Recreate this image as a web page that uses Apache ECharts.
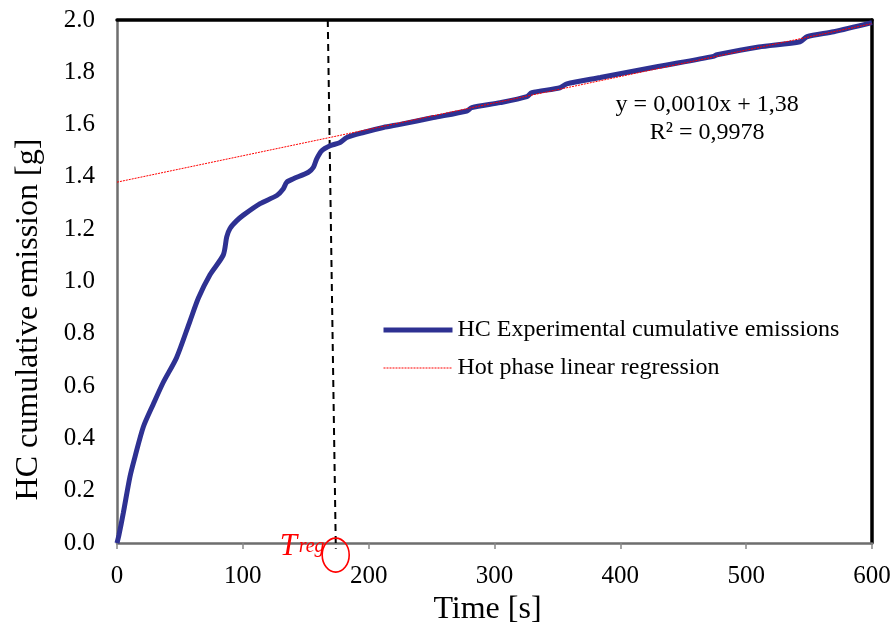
<!DOCTYPE html>
<html>
<head>
<meta charset="utf-8">
<script src="https://cdn.jsdelivr.net/npm/echarts@6/dist/echarts.min.js"></script>
<style>
html,body{margin:0;padding:0;background:#fff;}
#chart{width:894px;height:631px;}
</style>
</head>
<body>
<div id="chart"></div>
<script>
// ---- data ----
const timeS = [0, 1.5, 5, 10.3, 14.3, 20.9, 28.9, 36.8, 47.4, 58, 64.7, 73.9, 84.5, 87.2, 89.8, 95, 100.4, 113.7, 127, 132.2, 134.9, 140.2, 152.1, 156.1, 158.7, 162.7, 169.3, 177.3, 182.6, 195.8, 211.7, 225, 251.4, 278, 281.9, 304.5, 325.7, 329.6, 352.1, 357.4, 384, 430, 474, 476.8, 510, 542.9, 548.3, 569.5, 600];
const hcCum = [0, 0.03, 0.115, 0.254, 0.33, 0.444, 0.532, 0.615, 0.710, 0.849, 0.937, 1.026, 1.102, 1.171, 1.203, 1.232, 1.254, 1.298, 1.329, 1.355, 1.380, 1.393, 1.418, 1.437, 1.469, 1.500, 1.519, 1.532, 1.551, 1.570, 1.589, 1.601, 1.627, 1.652, 1.665, 1.684, 1.707, 1.722, 1.741, 1.756, 1.780, 1.822, 1.861, 1.867, 1.897, 1.917, 1.936, 1.955, 1.990];
const regX = [0, 600];
const regY = [1.38, 1.986];
const tregLineX = [167.5, 173.9];
const tregLineY = [2.0, -0.022];
const tregValue = 173.8;
const seriesNames = ['HC Experimental cumulative emissions', 'Hot phase linear regression'];
const equationLines = ['y = 0,0010x + 1,38', 'R² = 0,9978'];
const xTitle = 'Time [s]';
const yTitle = 'HC cumulative emission [g]';

const FONT = "'Liberation Serif', 'Times New Roman', serif";
const BLUE = '#2E3192';
const RED = '#ff0000';
const zip = (a, b) => a.map((v, i) => [v, b[i]]);

const chart = echarts.init(document.getElementById('chart'), null, {renderer: 'canvas'});
const option = {
  animation: false,
  backgroundColor: '#fff',
  grid: {left: 117, right: 22, top: 20, bottom: 84},
  legend: {
    data: [
      {name: seriesNames[0], lineStyle: {color: BLUE, width: 5, type: 'solid'}},
      {name: seriesNames[1], lineStyle: {color: RED, width: 1, type: [2, 1]}}
    ],
    orient: 'vertical',
    left: 376, top: 313,
    itemWidth: 69, itemHeight: 24, itemGap: 14,
    itemStyle: {opacity: 0},
    textStyle: {fontFamily: FONT, fontSize: 24, color: '#000'}
  },
  xAxis: [{
    type: 'value', min: 0, max: 600, interval: 100,
    name: xTitle, nameLocation: 'middle', nameGap: 45,
    nameTextStyle: {fontFamily: FONT, fontSize: 32, color: '#000', padding: [0, 14, 0, 0]},
    axisLine: {show: true, onZero: false, lineStyle: {color: '#6e6e6e', width: 2.5}},
    axisTick: {show: true, length: 6, lineStyle: {color: '#888', width: 1.5}},
    axisLabel: {fontFamily: FONT, fontSize: 25, color: '#000', margin: 21},
    splitLine: {show: false}
  }, {
    type: 'value', min: 0, max: 600, position: 'top',
    axisLine: {show: true, onZero: false, lineStyle: {color: '#000', width: 3.5}},
    axisTick: {show: false}, axisLabel: {show: false}, splitLine: {show: false}
  }],
  yAxis: [{
    type: 'value', min: 0, max: 2, interval: 0.2,
    name: yTitle, nameLocation: 'middle', nameGap: 72,
    nameTextStyle: {fontFamily: FONT, fontSize: 32, color: '#000', padding: [0, 76, 0, 0]},
    axisLine: {show: true, onZero: false, lineStyle: {color: '#6e6e6e', width: 2.5}},
    axisTick: {show: false},
    axisLabel: {fontFamily: FONT, fontSize: 25, color: '#000', margin: 22,
      formatter: v => v.toFixed(1)},
    splitLine: {show: false}
  }, {
    type: 'value', min: 0, max: 2, position: 'right',
    axisLine: {show: true, onZero: false, lineStyle: {color: '#000', width: 3.5}},
    axisTick: {show: false}, axisLabel: {show: false}, splitLine: {show: false}
  }],
  series: [{
    name: 'Treg',
    type: 'line',
    data: zip(tregLineX, tregLineY),
    symbol: 'none', clip: false, silent: true, z: 1,
    lineStyle: {color: '#000', width: 2, type: [7, 5]}
  }, {
    name: seriesNames[0],
    type: 'line',
    data: zip(timeS, hcCum),
    symbol: 'none', smooth: 0.25, z: 2,
    itemStyle: {color: BLUE},
    lineStyle: {color: BLUE, width: 5}
  }, {
    name: seriesNames[1],
    type: 'line',
    data: zip(regX, regY),
    symbol: 'none', z: 3,
    itemStyle: {color: RED},
    lineStyle: {color: RED, width: 1, type: [2, 1]}
  }]
};
chart.setOption(option);

// annotations placed through the chart's own scales
const p = v => chart.convertToPixel({gridIndex: 0}, v);
const anchor = p([tregValue, 0]);
const eq1 = p([469, 1.677]);
const eq2 = p([469, 1.571]);
chart.setOption({
  graphic: [
    {type: 'ellipse', shape: {cx: anchor[0], cy: anchor[1] + 12, rx: 13.5, ry: 17},
     style: {fill: 'none', stroke: RED, lineWidth: 1.6}, z: 10},
    {type: 'text', x: anchor[0] - 56, y: anchor[1] - 12,
     style: {text: 'T', fontFamily: FONT, fontStyle: 'italic', fontSize: 31, fill: RED,
       align: 'left', verticalAlign: 'alphabetic'}, z: 10},
    {type: 'text', x: anchor[0] - 37, y: anchor[1] - 6,
     style: {text: 'reg', fontFamily: FONT, fontStyle: 'italic', fontSize: 20, fill: RED,
       align: 'left', verticalAlign: 'alphabetic'}, z: 10},
    {type: 'text', x: eq1[0], y: eq1[1],
     style: {text: equationLines[0], fontFamily: FONT, fontSize: 24, fill: '#000',
       align: 'center', verticalAlign: 'middle'}, z: 10},
    {type: 'text', x: eq2[0], y: eq2[1],
     style: {text: equationLines[1], fontFamily: FONT, fontSize: 24, fill: '#000',
       align: 'center', verticalAlign: 'middle'}, z: 10}
  ]
});
</script>
</body>
</html>
